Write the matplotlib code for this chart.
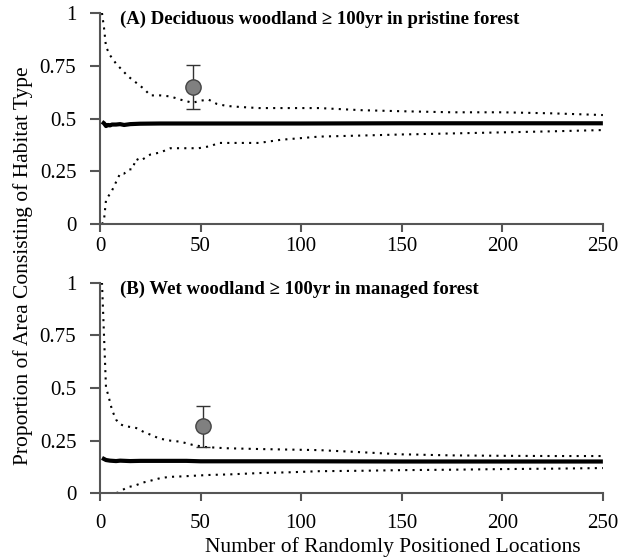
import matplotlib
matplotlib.use("Agg")
import matplotlib.pyplot as plt

plt.rcParams['font.family'] = ['Liberation Serif', 'DejaVu Serif']

# ---- Panel A data ----
a_mean_x = [1, 2, 3, 4, 5, 6, 8, 10, 12, 15, 20, 30, 50, 80, 100, 150, 200, 250]
a_mean_y = [0.485, 0.478, 0.465, 0.47, 0.468, 0.472, 0.472, 0.474, 0.47, 0.474, 0.476, 0.477, 0.477, 0.477, 0.477, 0.478, 0.478, 0.478]
a_up_x = [1, 2, 3, 5, 8, 10, 14, 18, 22, 25, 30, 35, 40, 46, 50, 54, 58, 63, 70, 79, 90, 109, 130, 150, 175, 200, 225, 250]
a_up_y = [1.0, 0.93, 0.84, 0.8, 0.76, 0.74, 0.7, 0.67, 0.64, 0.61, 0.61, 0.605, 0.59, 0.575, 0.585, 0.59, 0.57, 0.56, 0.555, 0.55, 0.55, 0.55, 0.54, 0.535, 0.53, 0.53, 0.525, 0.517]
a_lo_x = [1, 2, 3, 4, 6, 8, 10, 12, 14.5, 16, 18, 20, 25, 30, 35, 42, 49, 55, 59, 70, 79, 90, 109, 130, 150, 175, 200, 225, 250]
a_lo_y = [0.0, 0.02, 0.115, 0.13, 0.16, 0.2, 0.24, 0.24, 0.26, 0.26, 0.31, 0.3, 0.33, 0.34, 0.36, 0.36, 0.36, 0.37, 0.385, 0.385, 0.385, 0.4, 0.415, 0.42, 0.425, 0.43, 0.435, 0.44, 0.446]
a_pt_x = [46]
a_pt_y = [0.65]
a_err_lo = [0.105]
a_err_hi = [0.105]

# ---- Panel B data ----
b_mean_x = [1, 2, 3, 5, 8, 10, 15, 20, 30, 43, 50, 100, 150, 200, 250]
b_mean_y = [0.168, 0.163, 0.158, 0.155, 0.153, 0.155, 0.153, 0.154, 0.154, 0.154, 0.152, 0.152, 0.151, 0.151, 0.151]
b_up_x = [1, 2, 3, 4, 6, 8, 9.6, 12, 15, 18, 22, 26, 29.5, 35, 40, 46, 52, 62.5, 80, 109, 130, 150, 175, 200, 225, 250]
b_up_y = [1.0, 0.75, 0.5, 0.47, 0.395, 0.35, 0.33, 0.32, 0.315, 0.31, 0.29, 0.275, 0.26, 0.25, 0.245, 0.23, 0.22, 0.214, 0.21, 0.205, 0.195, 0.185, 0.18, 0.178, 0.177, 0.177]
b_lo_x = [1, 5, 9, 11, 14, 17, 21, 26, 30, 34.5, 40, 46, 54, 65, 79, 95, 109, 130, 150, 175, 200, 225, 250]
b_lo_y = [0.0, 0.0, 0.003, 0.015, 0.03, 0.035, 0.05, 0.062, 0.072, 0.078, 0.08, 0.083, 0.087, 0.09, 0.096, 0.1, 0.105, 0.107, 0.11, 0.112, 0.115, 0.117, 0.12]
b_pt_x = [51]
b_pt_y = [0.32]
b_err_lo = [0.1]
b_err_hi = [0.095]

x_ticks = [0, 50, 100, 150, 200, 250]
y_ticks = [0, 0.25, 0.5, 0.75, 1]
y_ticklabels = ['0', '0.25', '0.5', '0.75', '1']
titles = ['(A) Deciduous woodland \u2265 100yr in pristine forest',
          '(B) Wet woodland \u2265 100yr in managed forest']

fig = plt.figure(figsize=(6.28, 5.6), dpi=100)
axA = fig.add_axes([0.1592, 0.5995, 0.8008, 0.3773])
axB = fig.add_axes([0.1592, 0.1191, 0.8008, 0.3761])

spine_col = '#555555'
panels = [
    (axA, a_mean_x, a_mean_y, a_up_x, a_up_y, a_lo_x, a_lo_y, a_pt_x, a_pt_y, a_err_lo, a_err_hi, titles[0], 3),
    (axB, b_mean_x, b_mean_y, b_up_x, b_up_y, b_lo_x, b_lo_y, b_pt_x, b_pt_y, b_err_lo, b_err_hi, titles[1], 9),
]
for (ax, mx, my, ux, uy, lx, ly, px, py, elo, ehi, title, xpad) in panels:
    ax.plot(mx, my, color='black', lw=3.0, solid_capstyle='butt', zorder=3)
    ax.plot(ux, uy, color='black', lw=1.5, linestyle=(0, (1, 2.5)), zorder=2)
    ax.plot(lx, ly, color='black', lw=1.5, linestyle=(0, (1, 2.5)), zorder=2)
    ax.errorbar(px, py, yerr=[elo, ehi], fmt='o', ms=11, mfc='#808080', mec='#444444',
                mew=1.0, ecolor='#333333', elinewidth=1.0, capsize=5, capthick=1.0, zorder=5)
    ax.set_xlim(0, 250)
    ax.set_ylim(0, 1)
    ax.set_xticks(x_ticks)
    ax.set_yticks(y_ticks)
    ax.set_yticklabels(y_ticklabels)
    for s in ['top', 'right']:
        ax.spines[s].set_visible(False)
    for s in ['left', 'bottom']:
        ax.spines[s].set_color(spine_col)
        ax.spines[s].set_linewidth(1.5)
    ax.tick_params(axis='y', direction='out', length=7, width=1.5, color=spine_col, labelsize=15, pad=10)
    ax.tick_params(axis='x', direction='out', length=6, width=1.5, color=spine_col, labelsize=15, pad=xpad)
    ax.text(10, 0.968, title, fontsize=13.5, fontweight='bold', ha='left', va='center', transform=ax.transData)

fig.text(0.037, 0.525, 'Proportion of Area Consisting of Habitat Type', rotation=90,
         fontsize=15.5, ha='center', va='center')
fig.text(0.625, 0.0143, 'Number of Randomly Positioned Locations', fontsize=15.5, ha='center', va='baseline')

fig.savefig('out.png', dpi=100)
